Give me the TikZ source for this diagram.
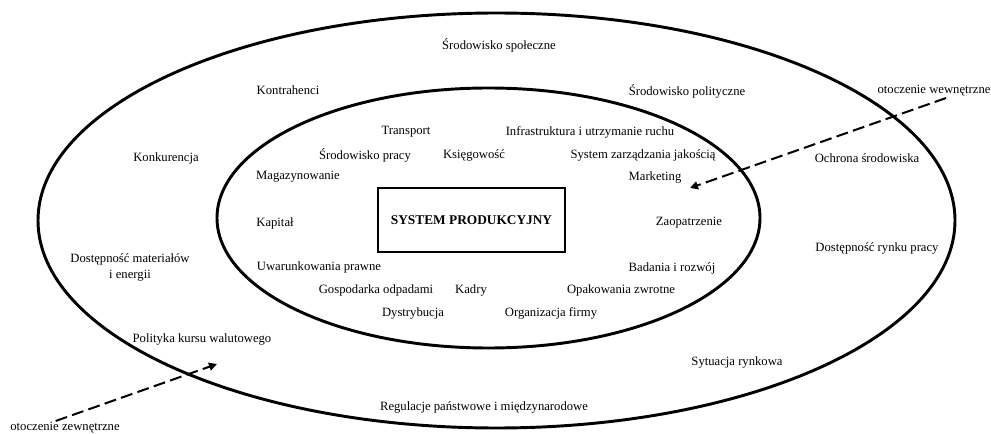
\documentclass[tikz,border=0pt]{standalone}
\usepackage{fontspec}
\setmainfont{Liberation Serif}
\usetikzlibrary{arrows.meta}

\begin{document}
\begin{tikzpicture}[x=0.75pt,y=-0.75pt,
	ring/.style={line width=2.2pt},
	lbl/.style={inner sep=1pt,font=\fontsize{9.5}{12}\selectfont},
	pointer/.style={line width=1.5pt,dash pattern=on 9pt off 4pt,-{Triangle[length=6pt,width=6pt]}}]
	\useasboundingbox (0,0) rectangle (991,434);
	\draw[ring] (496.5,220.5) ellipse [x radius=458.5,y radius=207.5];
	\draw[ring] (488.5,218) ellipse [x radius=271.5,y radius=130];
	\draw (471.5,220.5) node[draw,line width=1.5pt,minimum width=140pt,minimum height=48pt,font=\fontsize{10}{12}\selectfont\bfseries] (sys) {SYSTEM PRODUKCYJNY};
	% otoczenie zewnetrzne
	\draw (499,45)  node[lbl] (out1)  {Środowisko społeczne};
	\draw (288,90)  node[lbl] (out2)  {Kontrahenci};
	\draw (687,91)  node[lbl] (out3)  {Środowisko polityczne};
	\draw (166,158) node[lbl] (out4)  {Konkurencja};
	\draw (867,158) node[lbl] (out5)  {Ochrona środowiska};
	\draw (130,267) node[lbl,align=center] (out6) {Dostępność materiałów\\i energii};
	\draw (877,248) node[lbl] (out7)  {Dostępność rynku pracy};
	\draw (202,339) node[lbl] (out8)  {Polityka kursu walutowego};
	\draw (737,362) node[lbl] (out9)  {Sytuacja rynkowa};
	\draw (484,407) node[lbl] (out10) {Regulacje państwowe i międzynarodowe};
	% otoczenie wewnetrzne
	\draw (406,132) node[lbl] (in1)  {Transport};
	\draw (590,132) node[lbl] (in2)  {Infrastruktura i utrzymanie ruchu};
	\draw (365,155) node[lbl] (in3)  {Środowisko pracy};
	\draw (474,155) node[lbl] (in4)  {Księgowość};
	\draw (643,155) node[lbl] (in5)  {System zarządzania jakością};
	\draw (298,177) node[lbl] (in6)  {Magazynowanie};
	\draw (655,177) node[lbl] (in7)  {Marketing};
	\draw (275,223) node[lbl] (in8)  {Kapitał};
	\draw (689,223) node[lbl] (in9)  {Zaopatrzenie};
	\draw (319,267) node[lbl] (in10) {Uwarunkowania prawne};
	\draw (672,268) node[lbl] (in11) {Badania i rozwój};
	\draw (376,290) node[lbl] (in12) {Gospodarka odpadami};
	\draw (471,290) node[lbl] (in13) {Kadry};
	\draw (621,290) node[lbl] (in14) {Opakowania zwrotne};
	\draw (413,313) node[lbl] (in15) {Dystrybucja};
	\draw (551,313) node[lbl] (in16) {Organizacja firmy};
	% opisy
	\draw (934,91)  node[lbl] (ow) {otoczenie wewnętrzne};
	\draw (65,428)  node[lbl] (oz) {otoczenie zewnętrzne};
	\coordinate (owend) at (690,188);
	\coordinate (ozend) at (217,364);
	\draw[pointer] ([xshift=9pt]ow.south) -- (owend);
	\draw[pointer] ([xshift=-7pt]oz.north) -- (ozend);
\end{tikzpicture}
\end{document}
